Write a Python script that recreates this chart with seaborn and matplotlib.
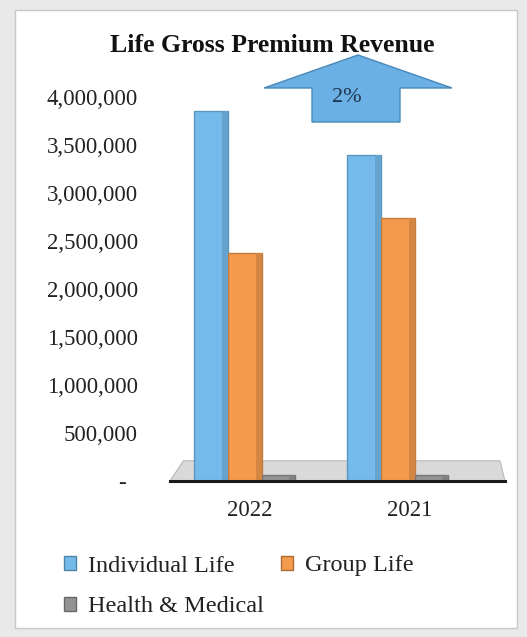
import matplotlib
matplotlib.use("Agg")
import matplotlib.pyplot as plt
import matplotlib.patches as mpatches
import matplotlib.transforms as mtransforms
from matplotlib.colors import to_rgb
import seaborn as sns
import pandas as pd

# Gross premium revenue by line of business
years = ["2022", "2021"]
individual_life = [3860000, 3400000]
group_life = [2375000, 2740000]
health_medical = [60000, 60000]
series_names = ["Individual Life", "Group Life", "Health & Medical"]
series_colors = ["#74bbec", "#f39a4c", "#939393"]
y_ticks = [0, 500000, 1000000, 1500000, 2000000, 2500000, 3000000, 3500000, 4000000]
growth_label = "2%"
title = "Life Gross Premium Revenue"

df = pd.DataFrame({
    "Year": years * 3,
    "Revenue": individual_life + group_life + health_medical,
    "Line": [series_names[0]] * 2 + [series_names[1]] * 2 + [series_names[2]] * 2,
})

sns.set_theme(style="white")
plt.rcParams["font.family"] = ["Liberation Serif", "DejaVu Serif"]

W, H = 527, 637
fig = plt.figure(figsize=(W / 100, H / 100), dpi=100)
fig.patch.set_facecolor("#e9e9e9")

def fx(px):
    return px / W

def fy(py):
    return 1 - py / H

# white card behind the chart
fig.patches.append(mpatches.Rectangle((fx(15), fy(628)), fx(502), fy(10) - fy(628),
                                      transform=fig.transFigure, facecolor="white",
                                      edgecolor="#c8c8c8", lw=1.0, zorder=-5))

ax = fig.add_axes([fx(170), fy(481), fx(505) - fx(170), fy(78) - fy(481)])
ax.set_facecolor("none")
ax.set_zorder(1)

sns.barplot(data=df, x="Year", y="Revenue", hue="Line", order=years,
            hue_order=series_names, palette=series_colors, width=0.66,
            saturation=1.0, ax=ax, legend=False, zorder=3)

# darker right-hand face on each bar for a bit of depth
for patch in list(ax.patches):
    x0, w, h = patch.get_x(), patch.get_width(), patch.get_height()
    r, g, b = to_rgb(patch.get_facecolor())
    patch.set_edgecolor((r * 0.8, g * 0.8, b * 0.8))
    patch.set_linewidth(1.0)
    side = mpatches.Rectangle((x0 + w * 0.82, 0), w * 0.18, h,
                              facecolor=(r * 0.87, g * 0.87, b * 0.87),
                              edgecolor="none", zorder=3.5)
    ax.add_patch(side)

# floor under the bars
floor = mpatches.Polygon([(0.0, 0.0), (1.0, 0.0), (0.985, 0.05), (0.04, 0.05)],
                         closed=True, transform=ax.transAxes,
                         facecolor="#d9d9d9", edgecolor="#b8b8b8", lw=0.8, zorder=1)
ax.add_patch(floor)

ax.set_xlim(-0.49, 1.70)
ax.set_ylim(0, 4200000)
ax.set_yticks(y_ticks)
ax.set_yticklabels(["-  "] + [f"{v:,}" for v in y_ticks[1:]])
ax.set_xlabel("")
ax.set_ylabel("")
ax.tick_params(axis="y", length=0, pad=23, labelsize=16.5, labelcolor="#222222")
ax.tick_params(axis="x", length=0, pad=14, labelsize=16.5, labelcolor="#222222")
# year labels sit slightly right of their bar groups
for lab, dx in zip(ax.get_xticklabels(), [5, 12]):
    lab.set_transform(lab.get_transform() +
                      mtransforms.ScaledTranslation(dx / 100, 0, fig.dpi_scale_trans))
for s in ["left", "right", "top"]:
    ax.spines[s].set_visible(False)
ax.spines["bottom"].set_color("#1a1a1a")
ax.spines["bottom"].set_linewidth(2.2)
ax.spines["bottom"].set_zorder(5)

fig.text(fx(272), fy(45), title, ha="center", va="center", fontsize=18.5,
         fontweight="bold", color="#111111")

# growth arrow
arrow_pts = [(358, 55), (452, 88), (400, 88), (400, 122), (312, 122), (312, 88), (264, 88)]
fig.patches.append(mpatches.Polygon([(fx(x), fy(y)) for x, y in arrow_pts], closed=True,
                                    transform=fig.transFigure, facecolor="#6ab0e4",
                                    edgecolor="#4a88b8", lw=1.0, zorder=4))
fig.text(fx(347), fy(98), growth_label, ha="center", va="center", fontsize=16,
         color="#1f3550", zorder=5)

# legend
def edge(c):
    r, g, b = to_rgb(c)
    return (r * 0.7, g * 0.7, b * 0.7)

handles = [mpatches.Patch(facecolor=c, edgecolor=edge(c)) for c in series_colors]
fig.legend(handles[:2], series_names[:2], loc="center left",
           bbox_to_anchor=(fx(42), fy(566)), ncol=2, frameon=False,
           fontsize=17.5, handlelength=0.5, handleheight=0.5,
           handletextpad=0.5, columnspacing=1.9, labelcolor="#222222")
fig.legend(handles[2:], series_names[2:], loc="center left",
           bbox_to_anchor=(fx(42), fy(607)), frameon=False,
           fontsize=17.5, handlelength=0.5, handleheight=0.5,
           handletextpad=0.5, labelcolor="#222222")

fig.savefig("out.png", dpi=100, facecolor=fig.get_facecolor())
